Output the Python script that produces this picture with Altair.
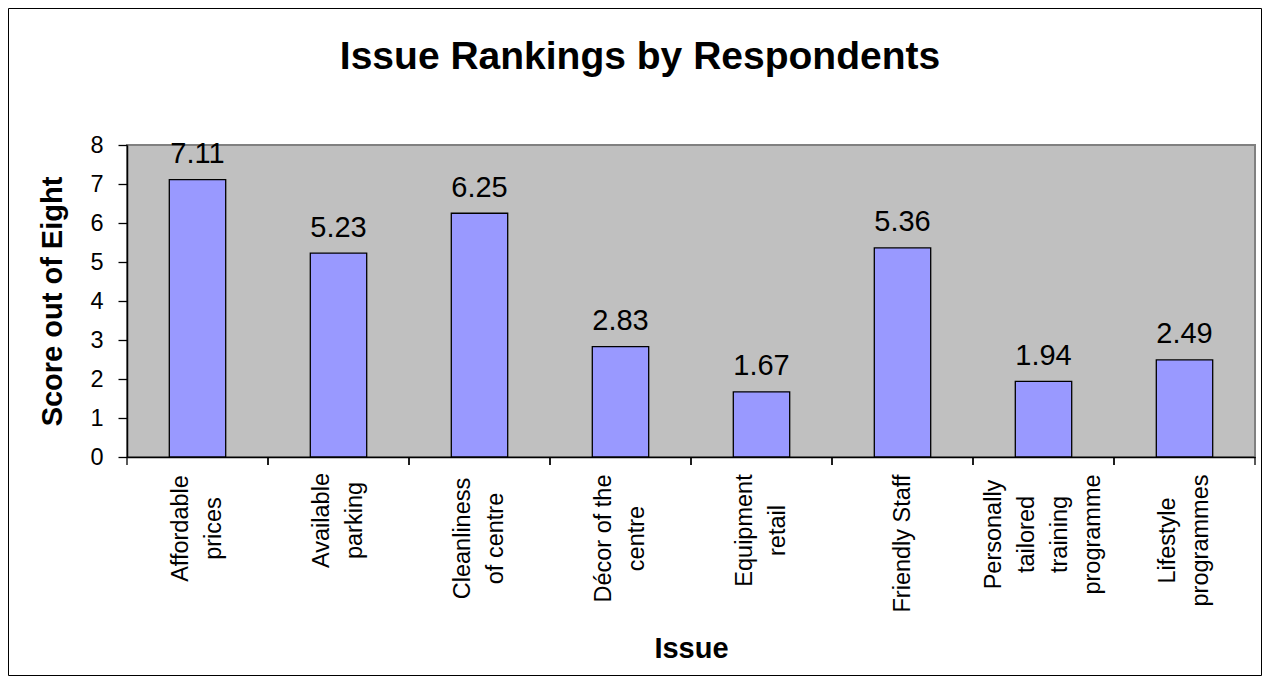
import altair as alt
import pandas as pd

# ---- data ----
issues = [
    "Affordable|prices",
    "Available|parking",
    "Cleanliness|of centre",
    "Décor of the|centre",
    "Equipment|retail",
    "Friendly Staff",
    "Personally|tailored|training|programme",
    "Lifestyle|programmes",
]
scores = [7.11, 5.23, 6.25, 2.83, 1.67, 5.36, 1.94, 2.49]
y_ticks = [0, 1, 2, 3, 4, 5, 6, 7, 8]
# distance (px) from the axis line to the centre of each wrapped label block,
# so that every block hangs from the same top line as in the reference
label_centre_gap = [71, 63, 81, 81, 73, 86, 77, 83]

df = pd.DataFrame({"issue": issues, "score": scores})

FONT = "Liberation Sans"
W, H = 1128, 312
LINE_H = 33

x_scale = alt.Scale(paddingInner=0, paddingOuter=0)
y_scale = alt.Scale(domain=[0, 8], nice=False)

n_lines = "length(split(datum.value, '|'))"
x_axis = alt.Axis(
    ticks=False, tickSize=0, labelAngle=270, labelAlign="center",
    labelBaseline="middle", labelFontSize=23.5,
    labelLineHeight=LINE_H, labelOverlap=False, labelLimit=400,
    labelExpr="split(datum.label, '|')",
    labelPadding={
        "condition": [
            {"test": f"datum.value == '{iss}'", "value": gap}
            for iss, gap in zip(issues, label_centre_gap)
        ],
        "value": 76,
    },
    labelOffset={
        "condition": [
            {"test": n_lines + " == 2", "value": -LINE_H / 2},
            {"test": n_lines + " == 3", "value": -LINE_H},
            {"test": n_lines + " == 4", "value": -LINE_H * 1.5},
        ],
        "value": 0,
    },
    titleX=W / 2, titleY=200, titleBaseline="alphabetic",
    titleAlign="center", titleFontSize=29)
y_axis = alt.Axis(
    values=y_ticks, tickSize=9, labelPadding=15, labelFontSize=23.5,
    grid=False, titleAngle=270, titleX=-66, titleY=H / 2,
    titleAlign="center", titleBaseline="alphabetic", titleFontSize=29)


def xenc(band_pos=None):
    kw = {}
    if band_pos is not None:
        kw["bandPosition"] = band_pos
    return alt.X("issue:N", sort=issues, scale=x_scale, axis=x_axis,
                 title="Issue", **kw)


yenc = alt.Y("score:Q", scale=y_scale, axis=y_axis, title="Score out of Eight")

bars = alt.Chart(df).mark_bar(
    color="#9999FF", stroke="black", strokeWidth=1.3,
    width=alt.RelativeBandSize(0.4)
).encode(x=xenc(), y=yenc)

value_labels = alt.Chart(df).mark_text(
    font=FONT, fontSize=29, baseline="alphabetic", dy=-16.5, color="black"
).encode(
    x=xenc(), y=yenc,
    text=alt.Text("score:Q", format=".2f"),
)

ticks_start = alt.Chart(df).mark_rule(color="black", strokeWidth=1.3).encode(
    x=xenc(0), y=alt.value(H), y2=alt.value(H + 8),
)
ticks_end = alt.Chart(df).mark_rule(color="black", strokeWidth=1.3).encode(
    x=xenc(1), y=alt.value(H), y2=alt.value(H + 8),
)

title = alt.Chart(alt.Data(values=[{}])).mark_text(
    text="Issue Rankings by Respondents", font=FONT, fontSize=39,
    fontWeight="bold", align="center", baseline="alphabetic", color="black"
).encode(x=alt.value(513), y=alt.value(-76))

border = alt.Chart(alt.Data(values=[{}])).mark_rect(
    filled=False, stroke="black", strokeWidth=1
).encode(
    x=alt.value(-118.5), x2=alt.value(1134.5),
    y=alt.value(-136.5), y2=alt.value(530.5),
)

chart = alt.layer(bars, value_labels, ticks_start, ticks_end, title, border).properties(
    width=W, height=H,
    autosize="none",
    padding={"left": 119, "top": 137, "right": 7, "bottom": 219},
    background="white",
).configure_view(
    fill="#C0C0C0", stroke="#808080", strokeWidth=2
).configure_axis(
    labelFont=FONT, titleFont=FONT, labelColor="black", titleColor="black",
    domainColor="black", domainWidth=1.5, tickColor="black", tickWidth=1.3,
    titleFontWeight="bold",
)

chart.save("out.html", embed_options={"renderer": "svg", "actions": False})
